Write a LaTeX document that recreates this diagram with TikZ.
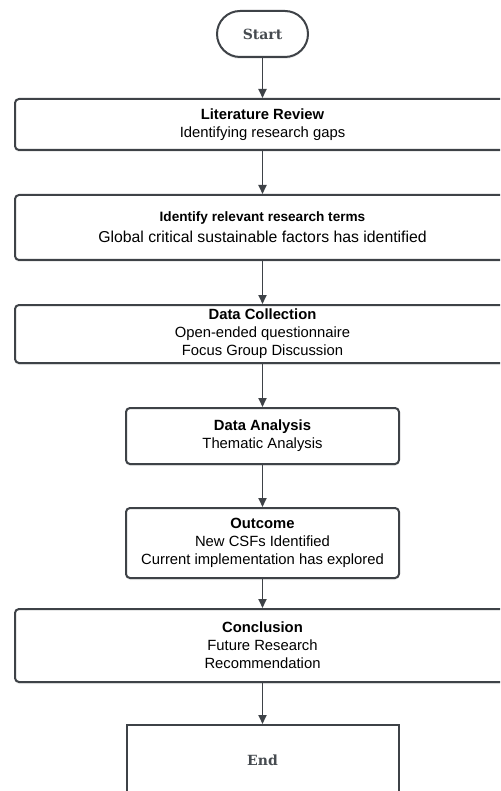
\documentclass[tikz,border=0pt]{standalone}
\usepackage{fontspec}
\setmainfont{Liberation Sans}
\newfontfamily\termfont{DejaVu Serif}
\usepackage{tikz}
\usetikzlibrary{positioning}
\usetikzlibrary{arrows.meta,shadows}
\definecolor{edgegray}{HTML}{3E4247}
\definecolor{termgray}{HTML}{464B50}
\tikzstyle{shade} = [drop shadow={opacity=0.15, shadow xshift=0pt, shadow yshift=-2pt}]
\tikzstyle{term} = [rectangle, rounded corners=23pt, minimum width=91pt, minimum height=46pt, line width=2pt, draw=edgegray, fill=white, shade, text=termgray, font=\termfont\bfseries\fontsize{14}{16}\selectfont]
\tikzstyle{wide} = [rectangle, rounded corners=4pt, minimum width=495pt, align=center, line width=2pt, draw=edgegray, fill=white, shade, font=\fontsize{14.8}{18}\selectfont]
\tikzstyle{narrow} = [rectangle, rounded corners=4pt, minimum width=273pt, align=center, line width=2pt, draw=edgegray, fill=white, shade, font=\fontsize{14.8}{18}\selectfont]
\tikzstyle{stop} = [rectangle, minimum width=272pt, minimum height=70pt, line width=2pt, draw=edgegray, fill=white, shade, text=termgray, font=\termfont\bfseries\fontsize{14}{16}\selectfont]
\tikzstyle{flow} = [line width=1.8pt, draw=edgegray, -{Triangle[length=9pt,width=8pt]}]

\begin{document}
\begin{tikzpicture}[x=1pt,y=-1pt]
    \useasboundingbox (0,0) rectangle (500,791);
    \clip (0,0) rectangle (500,791);
    \node (start) [term] at (262.5,34) {Start};
    \node (litreview) [wide, minimum height=51pt] at (262.5,124.5) {\textbf{Literature Review}\\Identifying research gaps};
    \node (terms) [wide, minimum height=65pt, font=\fontsize{15.8}{21}\selectfont] at (262.5,227.5) {{\fontsize{13.6}{21}\selectfont\bfseries Identify relevant research terms}\\Global critical sustainable factors has identified};
    \node (collect) [wide, minimum height=58pt] at (262.5,334) {\textbf{Data Collection}\\Open-ended questionnaire\\Focus Group Discussion};
    \node (analysis) [narrow, minimum height=56pt] at (262.5,436) {\textbf{Data Analysis}\\Thematic Analysis};
    \node (outcome) [narrow, minimum height=70pt] at (262.5,543) {\textbf{Outcome}\\New CSFs Identified\\Current implementation has explored};
    \node (conclusion) [wide, minimum height=73pt] at (262.5,645.5) {\textbf{Conclusion}\\Future Research\\Recommendation};
    \node (finish) [stop] at (262.5,760) {End};
    \draw[flow] (start) -- (litreview);
    \draw[flow] (litreview) -- (terms);
    \draw[flow] (terms) -- (collect);
    \draw[flow] (collect) -- (analysis);
    \draw[flow] (analysis) -- (outcome);
    \draw[flow] (outcome) -- (conclusion);
    \draw[flow] (conclusion) -- (finish);
\end{tikzpicture}
\end{document}
